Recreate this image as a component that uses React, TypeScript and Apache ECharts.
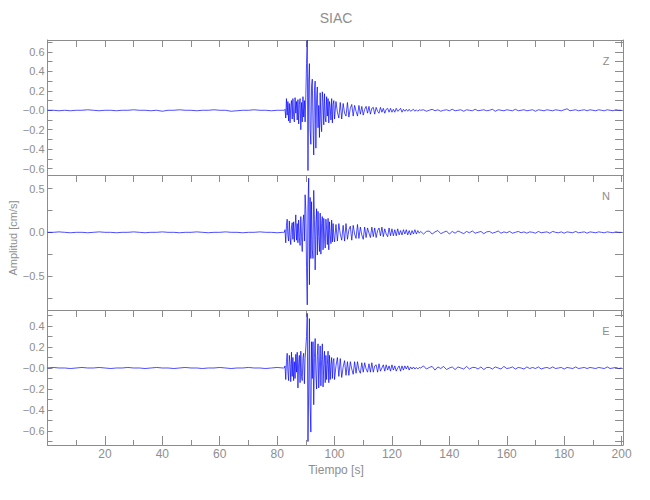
import React, { useEffect, useRef } from "react";
import * as echarts from "echarts";

// ---- sampling of the traces (seconds) ----
const PRE_START = 0;
const PRE_STEP = 2; // 0 .. 82 s
const BURST_START = 82.25;
const BURST_STEP = 0.25; // 82.25 .. 100 s
const CODA_START = 100.5;
const CODA_STEP = 0.5; // 100.5 .. 130 s
const TAIL_START = 131;
const TAIL_STEP = 1; // 131 .. 200 s

// ---- amplitudes, in hundredths of cm/s ----
const zPre = [
  0, 0, -0.5, 0, -0.5, 0, 0, 0.5, 0, -0.5,
  0, 0, -0.5, 0, 0, 0.5, 0, 0, -0.5, 0,
  -1, 0, 0, 0.5, 0, 0, -0.5, 0, 0, 0.5,
  0, 0, -1, -0.5, 0, 0, 0.5, 0, 0, -0.5,
  0, 0,
];
const zBurst = [
  0, 0, 1, -8, 12, -5, 9, -11,
  7, -13, 4, 10, -9, 12, -6, -12,
  13, -3, 9, -10, 11, -14, 6, 12,
  -20, 8, -12, 14, -7, 10, -12, 16,
  48, 72, -62, 30, 48, -20, -35, 25,
  32, -15, -46, 20, 30, -39, 12, 24,
  -18, 5, -28, 18, -10, -22, 19, 8,
  -15, 17, -8, -12, 14, -6, 12, -13,
  9, 3, -10, 12, -13, 6, 10, -9,
];
const zCoda = [
  9, -2, -8, 8, -9, 7, -3, -6, 8, -7,
  2, 6, -6, 5, -1, -6, 5, -4, 4, -5,
  1, 4, -3, 4, -4, 2, 3, -4, 3, -1,
  -3, 3, -2, 2, -3, 1, 2, -2, 2, -2,
  1, -2, 2, -1, 0, 2, -2, 1, -1, 1,
  -1, 1, -1, 0, 1, -1, 0.5, -1, 0.5, 0,
];
const zTail = [
  0.5, -1, 0, 1, -0.5, 0.5, -1, 0, 0.5, -0.5,
  1, -0.5, 0, 0.5, -1, 0.5, 0, -0.5, 1, -0.5,
  0, 0.5, -0.5, 0, 1, -1, 0.5, 0, -0.5, 0.5,
  0, -0.5, 1, -0.5, 0, 0.5, -0.5, 0, 0.5, -1,
  0.5, 0, -0.5, 0.5, 0, -0.5, 0.5, 0, -0.5, 0.5,
  1.5, -0.5, 0, 0.5, -0.5, 0, 0.5, -0.5, 0.5, 0,
  -0.5, 0.5, 0, -0.5, 0.5, 0, -0.5, 0.5, 0, 0,
];

const nPre = [
  0, 0, 0.5, 0, -0.5, 0, 0, -0.5, 0, 0.5,
  0, 0, -0.5, 0, 0, 0.5, 0, -0.5, 0, 0,
  0.5, 0, 0, -0.5, 0, 0, 0.5, 0, -0.5, 0,
  0, 0.5, 0, 0, -0.5, 0, 0, 0.5, 0, 0,
  -0.5, 0,
];
const nBurst = [
  0, 0, 3, -12, 8, 15, -4, -10,
  13, -6, -14, 6, 11, -8, 12, -11,
  5, 20, -9, 10, -12, 14, -6, -15,
  18, -5, -22, 12, 20, -10, 43, 25,
  -40, -83, 30, 62, -60, 40, -30, 35,
  -20, -30, 48, 15, -43, 8, 27, -26,
  24, -5, -22, 22, -25, 10, 18, -20,
  16, -6, -18, 15, 3, -14, 16, -20,
  12, -3, -13, 14, -11, 10, -4, -11,
];
const nCoda = [
  9, -10, 10, -2, -9, 8, -10, 10, -8, 3,
  7, -9, 8, -2, -7, 9, -7, 6, -3, -8,
  6, -6, 5, -1, -6, 6, -5, 5, -6, 2,
  5, -4, 6, -5, 4, -2, -5, 5, -4, 4,
  -4, 3, -4, 4, -3, 2, -3, 3, -2, 3,
  -3, 2, -3, 2, -2, 3, -2, 2, -1, 1,
];
const nTail = [
  -2, 1, 1.5, -2, 0.5, 2, -1.5, 0, 1.5, -2,
  1, -1, 1.5, 0, -1.5, 1, -0.5, 1.5, -1, 0,
  1, -1.5, 0.5, 1, -1, 0, 1.5, -1, 0.5, -0.5,
  1, -1, 0, 1, -0.5, 0.5, -1, 0.5, 0, -1,
  1, -0.5, 0, 0.5, -1, 1, 0, -0.5, 0.5, -1,
  0.5, 0, -0.5, 1, -0.5, 0, 0.5, -1, 0.5, 0,
  -0.5, 0.5, 0, -0.5, 0.5, 0, -0.5, 0.5, 0, 0,
];

const ePre = [
  0, 0.5, 0, 0, -0.5, 0, 0.5, 0, 0, 0.5,
  0, -0.5, 0, 0, 0.5, 0, 0, -0.5, 0, 0.5,
  0, 0, -0.5, 0, 0.5, 0, 0, -0.5, 0, 0,
  0.5, 0, -0.5, 0, 0, 0.5, 0, 0, -0.5, 0,
  0.5, 0,
];
const eBurst = [
  0, 0, 2, -11, 6, 14, -3, -12,
  12, 4, -13, 15, -8, 10, -12, 6,
  -10, 13, -4, 15, -19, 5, 12, -14,
  16, -8, -12, 10, 14, -15, 9, 20,
  30, 52, -70, -20, 47, -35, -61, 25,
  -10, 25, -35, 10, 28, -6, -20, 12,
  23, -19, 2, 21, -17, 8, 23, -18,
  4, 16, -14, 12, -11, 3, 16, -14,
  12, -11, 3, 10, -10, 6, 9, -11,
];
const eCoda = [
  2, 10, -8, 9, -9, 1, 7, -7, 6, -7,
  6, -1, -6, 6, -5, 6, -2, -5, 5, -4,
  5, -1, -4, 4, -4, 5, -4, 2, 3, -4,
  4, -3, 0, 3, -3, 3, -2, 2, -3, 3,
  -2, 2, -3, 0, 2, -3, 2, -2, 2, -1,
  2, -2, 1, -1, 1, -1, 0.5, -1, 0.5, 0,
];
const eTail = [
  2, -1, 0.5, 1.5, -2, 1, -0.5, 1.5, -1.5, 0,
  1, -1.5, 1, 0, -1, 1.5, -1, 0.5, 0.5, -1,
  1, -1.5, 0.5, 0.5, -1, 1, 0, -1, 1.5, -0.5,
  0, 1, -1, 0.5, 0, -1, 1, -0.5, 0.5, -0.5,
  1, -1, 0, 0.5, -0.5, 1, -0.5, 0, 0.5, -1,
  0.5, 0, -0.5, 1, -0.5, 0, 0.5, -0.5, 0.5, 0,
  -0.5, 0.5, 0, -0.5, 1, -0.5, 0, 0.5, -0.5, 0,
];

// ---- axes ----
const X_RANGE = [0, 200.5];
const xTickLabels = [20, 40, 60, 80, 100, 120, 140, 160, 180, 200];
const zRange = [-0.666, 0.723];
const nRange = [-0.889, 0.656];
const eRange = [-0.733, 0.552];
const zTicks = [-0.6, -0.4, -0.2, 0, 0.2, 0.4, 0.6];
const nTicks = [-0.5, 0, 0.5];
const eTicks = [-0.6, -0.4, -0.2, 0, 0.2, 0.4];
const components = ["Z", "N", "E"];
const TITLE = "SIAC";
const X_TITLE = "Tiempo [s]";
const Y_TITLE = "Amplitud [cm/s]";

const AXIS_COLOR = "#8c8c8c";
const TEXT_COLOR = "#8e8e8e";
const FONT = "'Liberation Sans', Arial, sans-serif";
const LINE_COLOR = "#0000ff";

const GRID_LEFT = 47.5;
const GRID_WIDTH = 575.5;
const GRID_TOPS = [40, 175, 310];
const GRID_H = 135;

function buildTrace(pre: number[], burst: number[], coda: number[], tail: number[]) {
  const out: number[][] = [];
  pre.forEach((v, i) => out.push([PRE_START + i * PRE_STEP, v / 100]));
  burst.forEach((v, i) => out.push([BURST_START + i * BURST_STEP, v / 100]));
  coda.forEach((v, i) => out.push([CODA_START + i * CODA_STEP, v / 100]));
  tail.forEach((v, i) => out.push([TAIL_START + i * TAIL_STEP, v / 100]));
  return out;
}

function yLabel(ticks: number[], negZero: boolean) {
  return (v: number) => {
    const hit = ticks.find((t) => Math.abs(t - v) < 1e-6);
    if (hit === undefined) return "";
    if (Math.abs(hit) < 1e-9) return negZero ? "\u22120.0" : "0.0";
    const s = Math.abs(hit).toFixed(1);
    return hit < 0 ? "\u2212" + s : s;
  };
}

export default function App() {
  const ref = useRef<HTMLDivElement>(null);

  useEffect(() => {
    if (!ref.current) return;
    const chart = echarts.init(ref.current, undefined, { renderer: "svg" });

    const traces = [
      buildTrace(zPre, zBurst, zCoda, zTail),
      buildTrace(nPre, nBurst, nCoda, nTail),
      buildTrace(ePre, eBurst, eCoda, eTail),
    ];
    const ranges = [zRange, nRange, eRange];
    const splits = [7, 3, 6];
    const tickSets = [zTicks, nTicks, eTicks];
    const negZero = [true, false, true];

    const grid = GRID_TOPS.map((top) => ({
      left: GRID_LEFT,
      top,
      width: GRID_WIDTH,
      height: GRID_H,
      containLabel: false,
    }));

    const lineStyle = { color: AXIS_COLOR, width: 1 };
    const xAxis: any[] = [];
    const yAxis: any[] = [];
    for (let i = 0; i < 3; i++) {
      const last = i === 2;
      xAxis.push({
        type: "value",
        gridIndex: i,
        min: X_RANGE[0],
        max: X_RANGE[1],
        interval: 20,
        position: "bottom",
        axisLine: { show: true, onZero: false, lineStyle },
        axisTick: { show: last, inside: true, length: 9, lineStyle },
        minorTick: { show: last, splitNumber: 2, length: 5, lineStyle },
        splitLine: { show: false },
        axisLabel: {
          show: last,
          color: TEXT_COLOR,
          fontSize: 12,
          fontFamily: FONT,
          margin: 3,
          formatter: (v: number) =>
            xTickLabels.some((t) => Math.abs(t - v) < 1e-6) ? String(v) : "",
        },
      });
      xAxis.push({
        type: "value",
        gridIndex: i,
        min: X_RANGE[0],
        max: X_RANGE[1],
        interval: 10,
        position: "top",
        axisLine: { show: true, onZero: false, lineStyle },
        axisTick: { show: true, inside: true, length: 7, lineStyle },
        splitLine: { show: false },
        axisLabel: { show: false },
      });
      const base = {
        type: "value",
        gridIndex: i,
        min: ranges[i][0],
        max: ranges[i][1],
        splitNumber: splits[i],
        splitLine: { show: false },
        axisLine: { show: true, onZero: false, lineStyle },
      };
      yAxis.push({
        ...base,
        position: "left",
        axisTick: { show: true, inside: true, length: 5, lineStyle },
        minorTick: { show: true, splitNumber: 2, length: 5, lineStyle },
        axisLabel: {
          color: TEXT_COLOR,
          fontSize: 11,
          fontFamily: FONT,
          margin: 3,
          formatter: yLabel(tickSets[i], negZero[i]),
        },
      });
      yAxis.push({
        ...base,
        position: "right",
        axisTick: { show: true, inside: true, length: 8, lineStyle },
        minorTick: { show: true, splitNumber: 2, length: 8, lineStyle },
        axisLabel: { show: false },
      });
    }

    const series = traces.map((data, i) => ({
      type: "line",
      xAxisIndex: 2 * i,
      yAxisIndex: 2 * i,
      data,
      showSymbol: false,
      symbol: "none",
      clip: true,
      lineStyle: { color: LINE_COLOR, width: 0.7 },
      emphasis: { disabled: true },
    }));

    const textStyle = (size: number) => ({
      fill: TEXT_COLOR,
      fontSize: size,
      fontFamily: FONT,
      align: "center",
      verticalAlign: "middle",
    });

    const graphic: any[] = [
      { type: "text", x: 336, y: 18, style: { ...textStyle(14), text: TITLE } },
      { type: "text", x: 336, y: 470, style: { ...textStyle(12), text: X_TITLE } },
      {
        type: "text",
        x: 13,
        y: 238,
        rotation: Math.PI / 2,
        style: { ...textStyle(11), text: Y_TITLE },
      },
      ...components.map((c, i) => ({
        type: "text",
        x: 606,
        y: GRID_TOPS[i] + 21,
        style: { ...textStyle(11), text: c },
      })),
    ];

    chart.setOption({
      animation: false,
      backgroundColor: "#ffffff",
      grid,
      xAxis,
      yAxis,
      series,
      graphic,
    });

    return () => chart.dispose();
  }, []);

  return (
    <div
      ref={ref}
      style={{ position: "fixed", left: 0, top: 0, width: 650, height: 500 }}
    />
  );
}
